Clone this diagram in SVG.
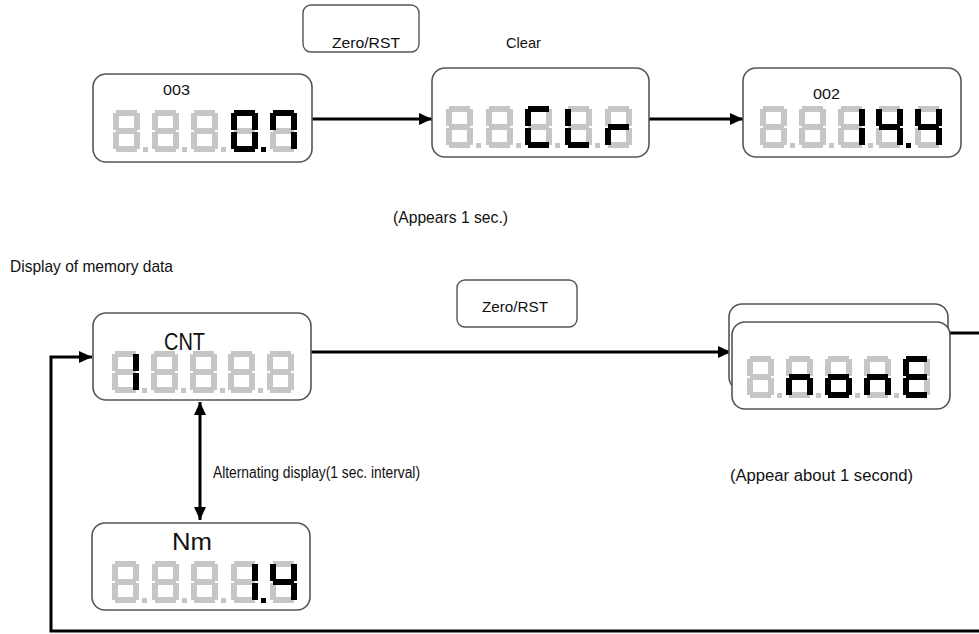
<svg xmlns="http://www.w3.org/2000/svg" xmlns:xlink="http://www.w3.org/1999/xlink" width="979" height="634" viewBox="0 0 979 634">
<style>
  .box{fill:#fff;stroke:#555;stroke-width:1.6}
  .btn{fill:#fff;stroke:#555;stroke-width:1.4}
  .t{font-family:"Liberation Sans",Arial,sans-serif;fill:#111}
  .off{fill:#c6c6c6}
  .on{fill:#000}
  .con{fill:none;stroke:#000;stroke-width:3}
</style>
<defs>
  <marker id="ah" markerUnits="userSpaceOnUse" markerWidth="13" markerHeight="12" refX="13" refY="6" orient="auto-start-reverse">
    <path d="M0,0 L13,6 L0,12 z" fill="#000"/>
  </marker>
  <rect id="sa" x="3" y="0" width="21" height="6"/>
  <rect id="sf" x="0" y="3" width="6" height="17"/>
  <rect id="sb" x="21" y="3" width="6" height="17"/>
  <rect id="sg" x="3" y="18" width="21" height="6"/>
  <rect id="se" x="0" y="22" width="6" height="17"/>
  <rect id="sc" x="21" y="22" width="6" height="17"/>
  <rect id="sd" x="3" y="36" width="21" height="6"/>
  <rect id="dp" x="30" y="37" width="5" height="5"/>
  <g id="d8">
    <use xlink:href="#sa"/><use xlink:href="#sb"/><use xlink:href="#sc"/><use xlink:href="#sd"/>
    <use xlink:href="#se"/><use xlink:href="#sf"/><use xlink:href="#sg"/>
  </g>
  <g id="d8p"><use xlink:href="#d8"/><use xlink:href="#dp"/></g>
</defs>

<g id="connectors">
  <path class="con" d="M312,119 H432" marker-end="url(#ah)"/>
  <path class="con" d="M649,119 H743" marker-end="url(#ah)"/>
  <path class="con" d="M311,352 H731" marker-end="url(#ah)"/>
  <path class="con" d="M979,631 H51 V357 H92" marker-end="url(#ah)"/>
  <path class="con" d="M950,333 H979"/>
  <path class="con" d="M200,402 V520" marker-start="url(#ah)" marker-end="url(#ah)"/>
</g>

<g id="btn-zero-top">
  <rect class="btn" x="303" y="5" width="116" height="47" rx="8"/>
  <text class="t" x="332" y="48" font-size="15" textLength="68" lengthAdjust="spacingAndGlyphs">Zero/RST</text>
</g>
<text id="label-clear" class="t" x="506" y="48" font-size="15" textLength="35" lengthAdjust="spacingAndGlyphs">Clear</text>

<g id="node-display-003">
  <rect class="box" x="93" y="74" width="219" height="88" rx="13"/>
  <text class="t" x="163" y="95" font-size="15" textLength="27" lengthAdjust="spacingAndGlyphs">003</text>
  <g class="off">
    <use xlink:href="#d8p" x="113" y="110"/><use xlink:href="#d8p" x="152" y="110"/>
    <use xlink:href="#d8p" x="191" y="110"/><use xlink:href="#d8p" x="231" y="110"/>
    <use xlink:href="#d8" x="270" y="110"/>
  </g>
  <g class="on">
    <g transform="translate(231,110)"><use xlink:href="#sa"/><use xlink:href="#sb"/><use xlink:href="#sc"/><use xlink:href="#sd"/><use xlink:href="#se"/><use xlink:href="#sf"/><use xlink:href="#dp"/></g>
    <g transform="translate(270,110)"><use xlink:href="#sa"/><use xlink:href="#sb"/><use xlink:href="#sc"/><use xlink:href="#sf"/></g>
  </g>
</g>

<g id="node-clear">
  <rect class="box" x="432" y="68" width="217" height="89" rx="13"/>
  <g class="off">
    <use xlink:href="#d8p" x="446" y="106"/><use xlink:href="#d8p" x="486" y="106"/>
    <use xlink:href="#d8p" x="525" y="106"/><use xlink:href="#d8p" x="565" y="106"/>
    <use xlink:href="#d8" x="605" y="106"/>
  </g>
  <g class="on">
    <g transform="translate(525,106)"><use xlink:href="#sa"/><use xlink:href="#sd"/><use xlink:href="#se"/><use xlink:href="#sf"/></g>
    <g transform="translate(565,106)"><use xlink:href="#sd"/><use xlink:href="#se"/><use xlink:href="#sf"/></g>
    <g transform="translate(605,106)"><use xlink:href="#se"/><use xlink:href="#sg"/></g>
  </g>
</g>

<g id="node-display-002">
  <rect class="box" x="743" y="68" width="218" height="89" rx="13"/>
  <text class="t" x="813" y="99" font-size="15" textLength="27" lengthAdjust="spacingAndGlyphs">002</text>
  <g class="off">
    <use xlink:href="#d8p" x="760" y="106"/><use xlink:href="#d8p" x="799" y="106"/>
    <use xlink:href="#d8p" x="838" y="106"/><use xlink:href="#d8p" x="876" y="106"/>
    <use xlink:href="#d8" x="915" y="106"/>
  </g>
  <g class="on">
    <g transform="translate(838,106)"><use xlink:href="#sb"/><use xlink:href="#sc"/></g>
    <g transform="translate(876,106)"><use xlink:href="#sf"/><use xlink:href="#sg"/><use xlink:href="#sb"/><use xlink:href="#sc"/><use xlink:href="#dp"/></g>
    <g transform="translate(915,106)"><use xlink:href="#sf"/><use xlink:href="#sg"/><use xlink:href="#sb"/><use xlink:href="#sc"/></g>
  </g>
</g>

<text id="label-appears" class="t" x="393" y="223" font-size="17" textLength="115" lengthAdjust="spacingAndGlyphs">(Appears 1 sec.)</text>
<text id="label-memory" class="t" x="10" y="272" font-size="17" textLength="163" lengthAdjust="spacingAndGlyphs">Display of memory data</text>

<g id="btn-zero-mid">
  <rect class="btn" x="457" y="280" width="120" height="47" rx="8"/>
  <text class="t" x="482" y="312" font-size="15" textLength="66" lengthAdjust="spacingAndGlyphs">Zero/RST</text>
</g>

<g id="node-cnt">
  <rect class="box" x="93" y="313" width="218" height="87" rx="13"/>
  <text class="t" x="164" y="350" font-size="23" textLength="41" lengthAdjust="spacingAndGlyphs">CNT</text>
  <g class="off">
    <use xlink:href="#d8p" x="112" y="351"/><use xlink:href="#d8p" x="151" y="351"/>
    <use xlink:href="#d8p" x="190" y="351"/><use xlink:href="#d8p" x="228" y="351"/>
    <use xlink:href="#d8" x="267" y="351"/>
  </g>
  <g class="on" transform="translate(112,351)"><use xlink:href="#sb"/><use xlink:href="#sc"/></g>
</g>

<text id="label-alternating" class="t" x="213" y="478" font-size="16" textLength="207" lengthAdjust="spacingAndGlyphs">Alternating display(1 sec. interval)</text>

<g id="node-nm">
  <rect class="box" x="92" y="523" width="218" height="87" rx="13"/>
  <text class="t" x="172" y="550" font-size="23" textLength="40" lengthAdjust="spacingAndGlyphs">Nm</text>
  <g class="off">
    <use xlink:href="#d8p" x="112" y="561"/><use xlink:href="#d8p" x="152" y="561"/>
    <use xlink:href="#d8p" x="191" y="561"/><use xlink:href="#d8p" x="231" y="561"/>
    <use xlink:href="#d8" x="270" y="561"/>
  </g>
  <g class="on">
    <g transform="translate(231,561)"><use xlink:href="#sb"/><use xlink:href="#sc"/><use xlink:href="#dp"/></g>
    <g transform="translate(270,561)"><use xlink:href="#sf"/><use xlink:href="#sg"/><use xlink:href="#sb"/><use xlink:href="#sc"/></g>
  </g>
</g>

<g id="node-none">
  <rect class="box" x="729" y="304" width="219" height="86" rx="13"/>
  <rect class="box" x="732" y="322" width="218" height="87" rx="13"/>
  <g class="off">
    <use xlink:href="#d8p" x="747" y="356"/><use xlink:href="#d8p" x="786" y="356"/>
    <use xlink:href="#d8p" x="825" y="356"/><use xlink:href="#d8p" x="864" y="356"/>
    <use xlink:href="#d8" x="903" y="356"/>
  </g>
  <g class="on">
    <g transform="translate(786,356)"><use xlink:href="#sg"/><use xlink:href="#se"/><use xlink:href="#sc"/></g>
    <g transform="translate(825,356)"><use xlink:href="#sg"/><use xlink:href="#se"/><use xlink:href="#sc"/><use xlink:href="#sd"/></g>
    <g transform="translate(864,356)"><use xlink:href="#sg"/><use xlink:href="#se"/><use xlink:href="#sc"/></g>
    <g transform="translate(903,356)"><use xlink:href="#sa"/><use xlink:href="#sf"/><use xlink:href="#sg"/><use xlink:href="#se"/><use xlink:href="#sd"/></g>
  </g>
</g>

<text id="label-appear-about" class="t" x="730" y="481" font-size="16" textLength="183" lengthAdjust="spacingAndGlyphs">(Appear about 1 second)</text>
</svg>
